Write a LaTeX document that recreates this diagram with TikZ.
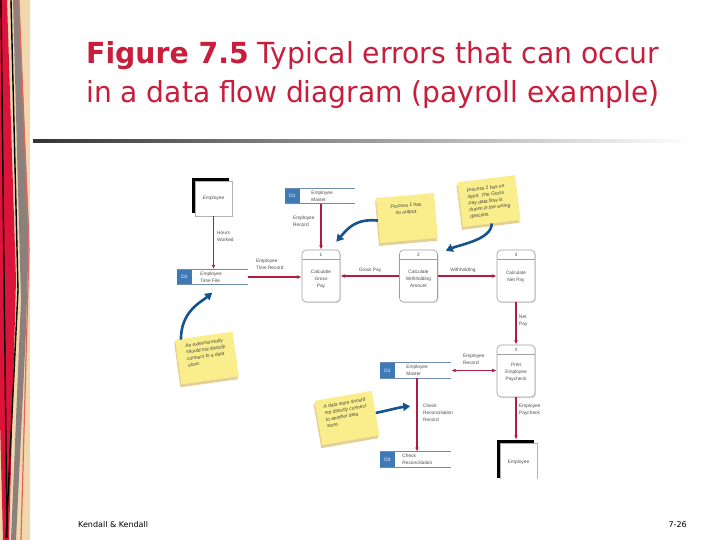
\documentclass[tikz,border=0pt]{standalone}
\usepackage{fontspec}
\usepackage{graphicx}
\setmainfont{DejaVu Sans}
\newfontfamily\dfdfont{Liberation Sans}
\usetikzlibrary{arrows.meta, positioning, calc, shadows}

\definecolor{titlered}{RGB}{200,30,60}
\definecolor{flowred}{RGB}{178,28,62}
\definecolor{storeblue}{RGB}{62,122,182}
\definecolor{storeline}{RGB}{110,140,175}
\definecolor{notearrow}{RGB}{22,82,142}
\definecolor{noteyellow}{RGB}{250,238,140}
\definecolor{notetan}{RGB}{228,208,150}
\definecolor{stripbeige}{RGB}{240,215,172}
\definecolor{stripred}{RGB}{220,20,60}
\definecolor{stripgray}{RGB}{140,128,125}
\definecolor{strippink}{RGB}{230,100,100}

\begin{document}
\begin{tikzpicture}[x=1pt, y=-1pt,
    flow/.style={flowred, line width=1.3pt, -{Latex[length=4.5pt,width=3.6pt]}},
    twoflow/.style={flowred, line width=1.3pt, {Latex[length=4.5pt,width=3.6pt]}-{Latex[length=4.5pt,width=3.6pt]}},
    small/.style={font=\dfdfont\fontsize{4.8}{6.8}\selectfont, text=black!70, inner sep=0pt},
    lbl/.style={small, align=left, anchor=north west},
    proc/.style={draw=gray!75, rounded corners=4pt, fill=white, line width=0.6pt,
        minimum width=38pt, minimum height=52pt, inner sep=0pt,
        drop shadow={shadow xshift=1pt, shadow yshift=-1pt, opacity=0.25}},
    ptext/.style={small, align=center},
    entity/.style={small, draw=gray!60, fill=white, minimum width=37pt, minimum height=35pt,
        drop shadow={shadow xshift=-3pt, shadow yshift=3pt, fill=black, opacity=1}},
    storeid/.style={small, fill=storeblue, text=white, minimum width=15pt, minimum height=15pt},
    storename/.style={small, align=left, anchor=west},
    storeedge/.style={storeline, line width=0.8pt},
    note/.style={fill=noteyellow, minimum width=58pt, minimum height=45pt, inner sep=3pt,
        align=left, font=\dfdfont\itshape\fontsize{4.9}{6.6}\selectfont, text=black!75,
        drop shadow={shadow xshift=-1pt, shadow yshift=-3pt, fill=notetan, opacity=1}},
    hint/.style={notearrow, line width=2.6pt, -{Triangle[length=7pt,width=8pt]}}
]
    % page frame
    \useasboundingbox (0,0) rectangle (720,540);
    \fill[white] (0,0) rectangle (720,540);

    % left border strip
    \fill[stripbeige] (0,0) rectangle (30,540);
    \fill[stripred] (0,0) -- (7,0) -- (16,280) -- (9,540) -- (3,540) -- (0,420) -- cycle;
    \fill[stripgray] (13,0) -- (19,0) -- (29,230) -- (26,330) -- (16,540) -- (11,540) -- (21,300) -- cycle;
    \draw[black, line width=1.4pt] (1,0) -- (7,538);
    \draw[black, line width=1.4pt] (11,0) -- (18,290) -- (6,538);
    \draw[strippink, line width=1.2pt] (19,0) -- (29,250) -- (21,540);

    % title
    \node[anchor=base west, inner sep=0pt, text=titlered, font=\fontsize{29}{32}\selectfont] (title1) at (86,64)
        {\resizebox{573pt}{\height}{\textbf{Figure 7.5} Typical errors that can occur}};
    \node[anchor=base west, inner sep=0pt, text=titlered, font=\fontsize{29}{32}\selectfont] (title2) at (86,103)
        {\resizebox{573pt}{\height}{in a data flow diagram (payroll example)}};
    \shade[left color=black!80, right color=white] (33,139.5) rectangle (690,142.5);

    % footer
    \node[anchor=base west, inner sep=0pt, font=\fontsize{8}{9}\selectfont] (foot1) at (78,527) {Kendall \& Kendall};
    \node[anchor=base east, inner sep=0pt, font=\fontsize{8}{9}\selectfont] (foot2) at (687,527) {7-26};

    \begin{scope}
    \clip (150,150) rectangle (600,478);

    % processes
    \node[proc] (p1) at (321,276) {};
    \node[proc] (p2) at (418.5,276) {};
    \node[proc] (p3) at (516,276) {};
    \node[proc] (p4) at (516,371) {};
    \foreach \p/\n in {p1/1, p2/2, p3/3, p4/4} {
        \draw[gray!75, line width=0.5pt] ([yshift=-10pt]\p.north west) -- ([yshift=-10pt]\p.north east);
        \node[small] at ([yshift=-5pt]\p.north) {\n};
    }
    \node[ptext] (p1t) at ([yshift=-3pt]p1.center) {Calculate\\Gross\\Pay};
    \node[ptext] (p2t) at ([yshift=-3pt]p2.center) {Calculate\\Withholding\\Amount};
    \node[ptext] (p3t) at ([yshift=-1pt]p3.center) {Calculate\\Net Pay};
    \node[ptext] (p4t) at ([yshift=-1pt]p4.center) {Print\\Employee\\Paycheck};

    % external entities
    \node[entity] (emp1) at (213.5,198.5) {Employee};
    \node[entity, minimum height=38pt] (emp2) at (518.5,462) {Employee};

    % data stores
    \node[storeid] (d1id) at (292.5,196) {D1};
    \node[storeid] (d2id) at (184.5,277) {D2};
    \node[storeid] (d1bid) at (387.5,370.5) {D1};
    \node[storeid] (d3id) at (387.5,459.5) {D3};
    \foreach \s/\w in {d1id/55, d2id/56, d1bid/56, d3id/56} {
        \draw[storeedge] (\s.north west) -- ++(15+\w,0);
        \draw[storeedge, line width=1.1pt] (\s.south west) -- ++(15+\w,0);
    }
    \node[storename, right=11pt of d1id] (d1) {Employee\\Master};
    \node[storename, right=8pt of d2id] (d2) {Employee\\Time File};
    \node[storename, right=11pt of d1bid] (d1b) {Employee\\Master};
    \node[storename, right=7pt of d3id] (d3) {Check\\Reconciliation};
    \coordinate (d2end) at ([xshift=56pt]d2id.east);
    \coordinate (d1bend) at ([xshift=56pt]d1bid.east);

    % data flows
    \draw[flow] (emp1.south) -- (emp1.south |- d2id.north);
    \draw[flow] (d2end) -- (p1.west |- d2end);
    \draw[flow] (p1.north |- d1id.south) -- (p1.north);
    \draw[flow] (p2.west) -- (p1.east);
    \draw[flow] (p2.east) -- (p3.west);
    \draw[flow] (p3.south) -- (p4.north);
    \draw[twoflow] (d1bend) -- (d1bend -| p4.west);
    \draw[flow] ([xshift=29.5pt]d1bid.south) -- ([xshift=29.5pt]d3id.north);
    \draw[flow] (p4.south) -- ([yshift=3pt]p4.south |- emp2.north);

    % flow labels
    \node[lbl] (l1) at (217,231) {Hours\\Worked};
    \node[lbl] (l2) at (256,259) {Employee\\Time Record};
    \node[lbl] (l3) at (293,216) {Employee\\Record};
    \node[small, anchor=south] (l4) at (370,273) {Gross Pay};
    \node[small, anchor=south] (l5) at (463,273) {Withholding};
    \node[lbl] (l6) at (519,315) {Net\\Pay};
    \node[lbl] (l7) at (463,354) {Employee\\Record};
    \node[lbl] (l8) at (423,404) {Check\\Reconciliation\\Record};
    \node[lbl] (l9) at (519,404) {Employee\\Paycheck};

    % sticky notes
    \node[note, rotate=5, align=center] (note1) at (407,218) {Process 1 has\\no output.\\[12pt]};
    \node[note, rotate=7] (note2) at (489,201) {Process 2 has no\\input. The Gross\\Pay data flow is\\drawn in the wrong\\direction.};
    \node[note, rotate=8] (note3) at (207,358) {An external entity\\should not directly\\connect to a data\\store.\\[4pt]};
    \node[note, rotate=10] (note4) at (347,418) {A data store should\\not directly connect\\to another data\\store.\\[4pt]};

    % note pointers
    \draw[hint] (note1.west) .. controls +(-22,-2) and +(12,-14) .. ([shift={(-4pt,8pt)}]p1.north east);
    \draw[hint] (note2.south) .. controls +(0,16) and +(14,-6) .. ([shift={(8pt,-1pt)}]p2.north east);
    \draw[hint] ([xshift=6pt]note3.north west) .. controls +(0,-28) and +(-12,10) .. ([shift={(20pt,-8pt)}]d2id.south east);
    \draw[hint] (note4.east) .. controls +(10,-2) and +(-10,1) .. ([shift={(15pt,-28pt)}]d1bid.south east);
    \end{scope}
\end{tikzpicture}
\end{document}
